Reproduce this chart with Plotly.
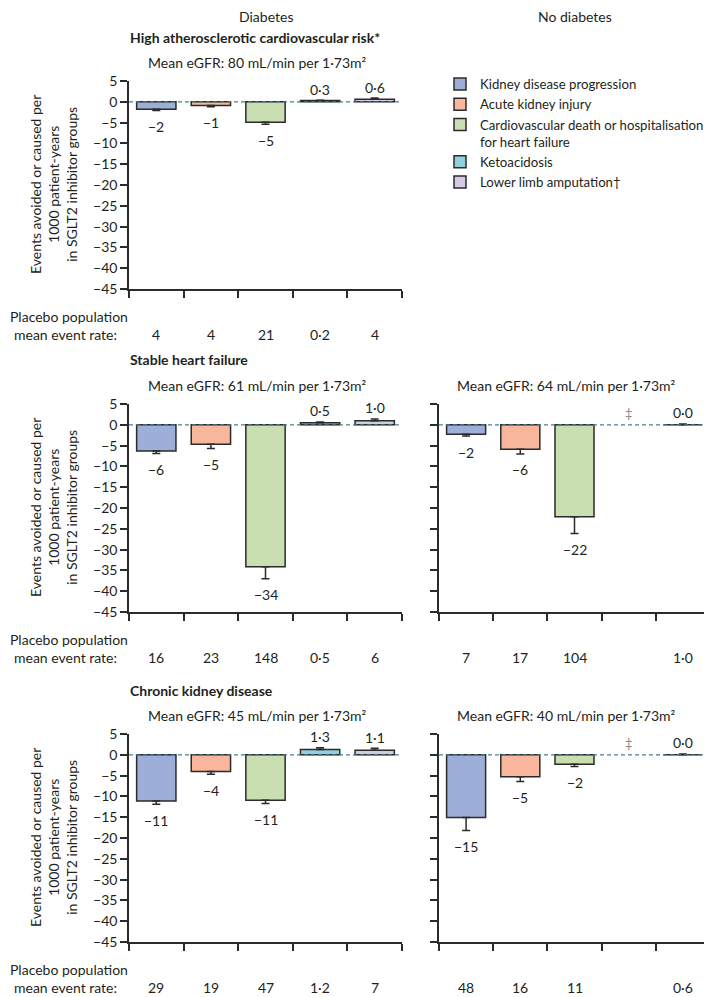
import plotly.graph_objects as go

# The page body keeps the browser's default 8 px margin, so the figure is
# drawn 8 px smaller and every reference pixel position is shifted by 8 px.
OFF = 8
W, H = 712 - OFF, 997 - OFF

# ---------------- data ----------------
categories = ["Kidney disease progression", "Acute kidney injury",
              "Cardiovascular death or hospitalisation<br>for heart failure",
              "Ketoacidosis", "Lower limb amputation†"]
colors = ["#9dafd8", "#f8b79d", "#c9dfb1", "#8fd0e1", "#d6c9e4"]

y_ticks = [5, 0, -5, -10, -15, -20, -25, -30, -35, -40, -45]
y_tick_labels = ["5", "0", "−5", "−10", "−15", "−20", "−25", "−30", "−35", "−40", "−45"]

column_titles = ["Diabetes", "No diabetes"]
section_titles = ["High atherosclerotic cardiovascular risk*", "Stable heart failure", "Chronic kidney disease"]

ascvd_dm_egfr = "Mean eGFR: 80 mL/min per 1·73m²"
ascvd_dm_values = [-1.8, -0.9, -4.9, 0.3, 0.6]
ascvd_dm_errors = [0.3, 0.3, 0.5, 0.1, 0.3]
ascvd_dm_labels = ["−2", "−1", "−5", "0·3", "0·6"]
ascvd_dm_placebo = ["4", "4", "21", "0·2", "4"]

hf_dm_egfr = "Mean eGFR: 61 mL/min per 1·73m²"
hf_dm_values = [-6.3, -4.7, -34.1, 0.5, 1.0]
hf_dm_errors = [0.6, 1.0, 2.9, 0.2, 0.4]
hf_dm_labels = ["−6", "−5", "−34", "0·5", "1·0"]
hf_dm_placebo = ["16", "23", "148", "0·5", "6"]

hf_nodm_egfr = "Mean eGFR: 64 mL/min per 1·73m²"
hf_nodm_values = [-2.3, -5.9, -22.1, None, 0.0]
hf_nodm_errors = [0.4, 1.1, 4.0, None, 0.2]
hf_nodm_labels = ["−2", "−6", "−22", "‡", "0·0"]
hf_nodm_placebo = ["7", "17", "104", "", "1·0"]

ckd_dm_egfr = "Mean eGFR: 45 mL/min per 1·73m²"
ckd_dm_values = [-11.1, -4.0, -10.9, 1.3, 1.1]
ckd_dm_errors = [0.8, 0.7, 0.8, 0.4, 0.5]
ckd_dm_labels = ["−11", "−4", "−11", "1·3", "1·1"]
ckd_dm_placebo = ["29", "19", "47", "1·2", "7"]

ckd_nodm_egfr = "Mean eGFR: 40 mL/min per 1·73m²"
ckd_nodm_values = [-15.1, -5.3, -2.3, None, 0.0]
ckd_nodm_errors = [3.1, 1.1, 0.5, None, 0.2]
ckd_nodm_labels = ["−15", "−5", "−2", "‡", "0·0"]
ckd_nodm_placebo = ["48", "16", "11", "", "0·6"]

y_title = "Events avoided or caused per<br>1000 patient-years<br>in SGLT2 inhibitor groups"

# ---------------- layout helpers ----------------
FONT = "Lato"
TXT = "#231f20"
AX = "#2b2b2b"
FS = 14

def px(x):
    return (x - OFF) / W

def py(y):
    return 1 - (y - OFF) / H

LEFT = (129, 402)
RIGHT = (439, 710)
ROWS = [(81, 289), (404, 612), (734, 942)]

panels = [
    dict(ax=1, col=LEFT, row=0, egfr=ascvd_dm_egfr, v=ascvd_dm_values, e=ascvd_dm_errors,
         lab=ascvd_dm_labels, pl=ascvd_dm_placebo, ylab=True),
    dict(ax=2, col=LEFT, row=1, egfr=hf_dm_egfr, v=hf_dm_values, e=hf_dm_errors,
         lab=hf_dm_labels, pl=hf_dm_placebo, ylab=True),
    dict(ax=3, col=RIGHT, row=1, egfr=hf_nodm_egfr, v=hf_nodm_values, e=hf_nodm_errors,
         lab=hf_nodm_labels, pl=hf_nodm_placebo, ylab=False),
    dict(ax=4, col=LEFT, row=2, egfr=ckd_dm_egfr, v=ckd_dm_values, e=ckd_dm_errors,
         lab=ckd_dm_labels, pl=ckd_dm_placebo, ylab=True),
    dict(ax=5, col=RIGHT, row=2, egfr=ckd_nodm_egfr, v=ckd_nodm_values, e=ckd_nodm_errors,
         lab=ckd_nodm_labels, pl=ckd_nodm_placebo, ylab=False),
]

fig = go.Figure()
annotations = []
shapes = []
layout_axes = {}

for p in panels:
    n = p["ax"]
    sfx = "" if n == 1 else str(n)
    xref, yref = "x" + sfx, "y" + sfx
    top, bot = ROWS[p["row"]]
    x0, x1 = p["col"]

    layout_axes["xaxis" + sfx] = dict(
        domain=[px(x0), px(x1)], range=[-0.5, 4.5], anchor=yref,
        tickvals=[-0.5, 0.5, 1.5, 2.5, 3.5, 4.5], showticklabels=False,
        ticks="outside", ticklen=7, tickwidth=1.5, tickcolor=AX,
        showline=True, linecolor=AX, linewidth=1.5, showgrid=False, zeroline=False,
        fixedrange=True, automargin=False)
    layout_axes["yaxis" + sfx] = dict(
        domain=[py(bot), py(top)], range=[-45, 5], anchor=xref,
        tickvals=y_ticks, ticktext=y_tick_labels, showticklabels=p["ylab"],
        ticks="outside", ticklen=7, tickwidth=1.5, tickcolor=AX,
        tickfont=dict(family=FONT, size=FS, color=TXT),
        showline=True, linecolor=AX, linewidth=1.5, showgrid=False, zeroline=False,
        fixedrange=True, automargin=False)

    for i in range(5):
        v = p["v"][i]
        if v is None:
            continue
        e = p["e"][i]
        if v < 0:
            err = dict(type="data", symmetric=False, array=[0], arrayminus=[e])
        else:
            err = dict(type="data", symmetric=False, array=[e], arrayminus=[0])
        err.update(color=AX, thickness=1.5, width=4)
        fig.add_trace(go.Bar(
            x=[i], y=[v], xaxis=xref, yaxis=yref, width=0.72,
            marker=dict(color=colors[i], line=dict(color=AX, width=1.5)),
            error_y=err, name=categories[i], legendgroup=categories[i],
            showlegend=(n == 1), hoverinfo="skip"))

    # zero dashed line
    shapes.append(dict(type="line", xref=xref + " domain", yref=yref,
                       x0=0, x1=1, y0=0, y1=0, layer="above",
                       line=dict(color="#4f7f8c", width=1.3, dash="4px,3px")))

    # value labels
    for i in range(5):
        v = p["v"][i]
        lab = p["lab"][i]
        if v is None:
            annotations.append(dict(x=i, y=0, xref=xref, yref=yref, text=lab,
                                    showarrow=False, yshift=12,
                                    font=dict(family=FONT, size=FS - 1, color="#8a8a8a")))
            continue
        e = p["e"][i]
        if v < 0:
            annotations.append(dict(x=i, y=v - e, xref=xref, yref=yref, text=lab,
                                    showarrow=False, yshift=-16,
                                    font=dict(family=FONT, size=FS, color=TXT)))
        else:
            annotations.append(dict(x=i, y=v + e, xref=xref, yref=yref, text=lab,
                                    showarrow=False, yshift=11,
                                    font=dict(family=FONT, size=FS, color=TXT)))

    # placebo rates
    for i in range(5):
        annotations.append(dict(x=i, y=0, xref=xref, yref=yref + " domain",
                                text=p["pl"][i], showarrow=False, yshift=-45,
                                yanchor="middle",
                                font=dict(family=FONT, size=FS, color=TXT)))

    # eGFR subtitle
    cx = (x0 + x1) / 2 - 8
    annotations.append(dict(x=px(cx), y=py(top - 19), xref="paper", yref="paper",
                            text=p["egfr"], showarrow=False, xanchor="center", yanchor="middle",
                            font=dict(family=FONT, size=FS, color=TXT)))

    if p["ylab"]:
        annotations.append(dict(x=px(53), y=py((top + bot) / 2), xref="paper", yref="paper",
                                text=y_title, textangle=-90, showarrow=False,
                                xanchor="center", yanchor="middle",
                                font=dict(family=FONT, size=FS, color=TXT)))
        annotations.append(dict(x=px(OFF), y=py(bot + 27), xref="paper", yref="paper",
                                text="Placebo population", showarrow=False,
                                xanchor="left", yanchor="middle",
                                font=dict(family=FONT, size=FS, color=TXT)))
        annotations.append(dict(x=px(119), y=py(bot + 45), xref="paper", yref="paper",
                                text="mean event rate:", showarrow=False,
                                xanchor="right", yanchor="middle",
                                font=dict(family=FONT, size=FS, color=TXT)))

# section titles
for k, t in enumerate(section_titles):
    top = ROWS[k][0]
    annotations.append(dict(x=px(128), y=py(top - 44), xref="paper", yref="paper",
                            text="<b>" + t + "</b>", showarrow=False,
                            xanchor="left", yanchor="middle",
                            font=dict(family=FONT, size=FS, color=TXT)))

# column titles
for t, cx in zip(column_titles, [(LEFT[0] + LEFT[1]) / 2, (RIGHT[0] + RIGHT[1]) / 2]):
    annotations.append(dict(x=px(cx), y=py(OFF + 8), xref="paper", yref="paper",
                            text=t, showarrow=False, xanchor="center", yanchor="middle",
                            font=dict(family=FONT, size=FS, color=TXT)))

fig.update_layout(
    width=W, height=H,
    margin=dict(l=0, r=0, t=0, b=0, pad=0, autoexpand=False),
    paper_bgcolor="white", plot_bgcolor="white",
    font=dict(family=FONT, size=FS, color=TXT),
    barmode="overlay",
    showlegend=True,
    legend=dict(x=px(440), y=py(69), xanchor="left", yanchor="top",
                font=dict(family=FONT, size=13.2, color=TXT),
                bgcolor="rgba(0,0,0,0)", tracegroupgap=0, valign="top",
                itemclick=False, itemdoubleclick=False),
    annotations=annotations,
    shapes=shapes,
    **layout_axes,
)

fig.write_html("out.html")
